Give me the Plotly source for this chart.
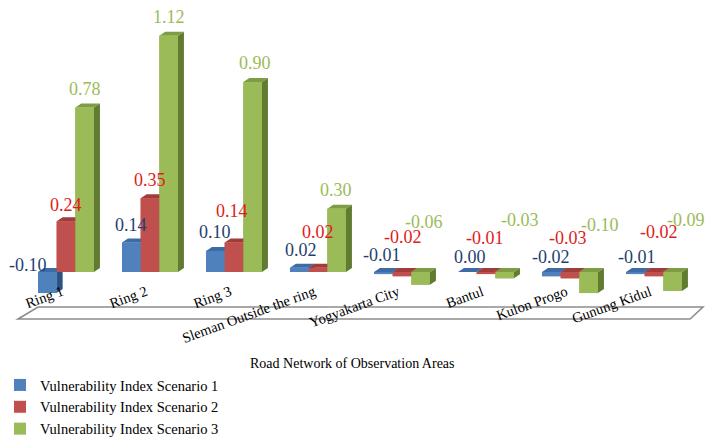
import plotly.graph_objects as go

# Road network areas and vulnerability index per scenario
areas = ["Ring 1", "Ring 2", "Ring 3", "Sleman Outside the ring",
         "Yogyakarta City", "Bantul", "Kulon Progo", "Gunung Kidul"]
scenario_names = ["Vulnerability Index Scenario 1",
                  "Vulnerability Index Scenario 2",
                  "Vulnerability Index Scenario 3"]
scenario_1 = [-0.10, 0.14, 0.10, 0.02, -0.01, 0.00, -0.02, -0.01]
scenario_2 = [0.24, 0.35, 0.14, 0.02, -0.02, -0.01, -0.03, -0.02]
scenario_3 = [0.78, 1.12, 0.90, 0.30, -0.06, -0.03, -0.10, -0.09]
series = [scenario_1, scenario_2, scenario_3]

# face colours: front, top, side
front_colors = ["#4F81BD", "#C0504D", "#9BBB59"]
top_colors = ["#3C6BA5", "#A03C39", "#7D9C43"]
side_colors = ["#2E5283", "#863533", "#617C31"]
label_colors = ["#1F3F6E", "#E01B1B", "#9BBB59"]

# bar geometry (category units / value units)
BW = 0.222          # width of one bar
DX = 0.071          # horizontal depth of the 3-D effect
DY = 0.019          # vertical depth of the 3-D effect
offsets = [-1.5 * BW, -0.5 * BW, 0.5 * BW]

# value label pixel shifts (x, y) so the small bars' labels do not collide
label_dx = [
    [-19, 0, 0, 2, -1, 3, 0, 2],
    [0, 0, -2, 0, 1, -1, -2, 5],
    [0, 0, 2, -1, 3, 15, 11, 13],
]
label_dy = [
    [7, 17, 19, 18, 17, 15, 15, 15],
    [16, 18, 31, 36, 35, 34, 34, 40],
    [18, 19, 19, 19, 50, 52, 47, 52],
]

SERIF = "Liberation Serif, Times New Roman, serif"

fig = go.Figure()

# floor of the chart
fig.add_shape(
    type="path",
    path="M -0.571 -0.2227 L 7.43 -0.2227 L 7.583 -0.166 L -0.333 -0.166 Z",
    xref="x", yref="y",
    line=dict(color="#8C8C8C", width=1.6),
    fillcolor="rgba(255,255,255,0)",
    layer="below",
)

# front faces as bars (also provide the legend entries)
for s, vals in enumerate(series):
    fig.add_trace(go.Bar(
        x=list(range(len(areas))), y=vals, base=0,
        width=BW, offset=offsets[s],
        marker=dict(color=front_colors[s], line=dict(width=0)),
        name=scenario_names[s], showlegend=True, hoverinfo="skip",
    ))


def polys(vals, s, face):
    xs, ys = [], []
    for i, v in enumerate(vals):
        x0 = i + offsets[s]
        x1 = x0 + BW
        lo, hi = min(0.0, v), max(0.0, v)
        if face == "front":
            px = [x0, x1, x1, x0, x0]
            py = [lo, lo, hi, hi, lo]
        elif face == "top":
            px = [x0, x1, x1 + DX, x0 + DX, x0]
            py = [hi, hi, hi + DY, hi + DY, hi]
        else:
            px = [x1, x1 + DX, x1 + DX, x1, x1]
            py = [lo, lo + DY, hi + DY, hi, lo]
        xs += px + [None]
        ys += py + [None]
    return xs, ys


# 3-D shading, drawn series by series so nearer faces overlap correctly
for s, vals in enumerate(series):
    for face, col in (("side", side_colors[s]), ("top", top_colors[s]),
                      ("front", front_colors[s])):
        px, py = polys(vals, s, face)
        fig.add_trace(go.Scatter(
            x=px, y=py, mode="lines", fill="toself", fillcolor=col,
            line=dict(width=0, color=col), showlegend=False,
            hoverinfo="skip",
        ))

# value labels
for s, vals in enumerate(series):
    for i, v in enumerate(vals):
        fig.add_annotation(
            x=i + offsets[s] + BW / 2, y=max(0.0, v),
            text=f"{v:.2f}", showarrow=False,
            xshift=label_dx[s][i], yshift=label_dy[s][i],
            font=dict(family=SERIF, size=18, color=label_colors[s]),
            xanchor="center", yanchor="middle",
        )

# axis title
fig.add_annotation(
    x=0.4993, y=1 - 363 / 439, xref="paper", yref="paper",
    text="Road Network of Observation Areas", showarrow=False,
    font=dict(family=SERIF, size=14, color="#000000"),
    xanchor="center", yanchor="middle",
)

fig.update_layout(
    width=705, height=439,
    margin=dict(l=0, r=0, t=0, b=0, pad=0, autoexpand=False),
    paper_bgcolor="white", plot_bgcolor="white",
    barmode="overlay",
    showlegend=True,
    legend=dict(
        x=0.0, y=-0.0137, xanchor="left", yanchor="bottom",
        font=dict(family=SERIF, size=14.5, color="#000000"),
        bgcolor="rgba(0,0,0,0)", tracegroupgap=0,
    ),
    xaxis=dict(
        range=[-0.7857, 7.6071],
        tickvals=list(range(len(areas))), ticktext=areas,
        tickangle=-20, showgrid=False, zeroline=False, showline=False,
        ticks="", anchor="free", position=1 - 280 / 439,
        ticklabelshift=-4,
        tickfont=dict(family=SERIF, size=14.5, color="#000000"),
        fixedrange=True,
    ),
    yaxis=dict(
        range=[-0.7915, 1.289], visible=False, fixedrange=True,
    ),
)

fig.write_html("out.html")
